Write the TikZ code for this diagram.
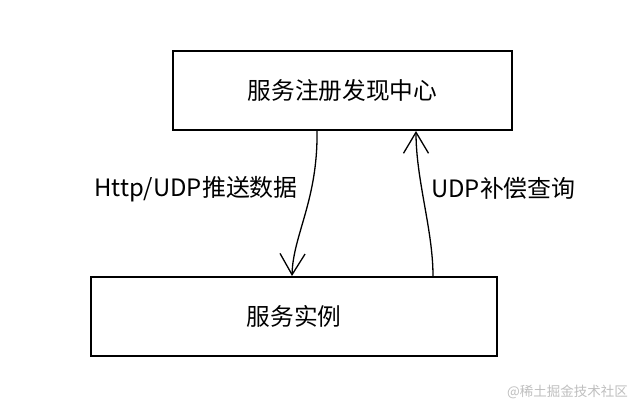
\documentclass[tikz,border=0pt]{standalone}
\usepackage{fontspec}
\setmainfont{Noto Sans CJK SC}
\usetikzlibrary{arrows.meta}
\tikzset{
  box/.style={draw=black, line width=2pt, fill=white, inner sep=0pt, font=\fontsize{23.7}{26}\selectfont},
  flow/.style={draw=black, line width=1.3pt, -{Straight Barb[length=21pt, width=25pt, line width=1.3pt]}},
  lbl/.style={font=\fontsize{23.9}{26}\selectfont, inner sep=0pt},
}
\begin{document}
\begin{tikzpicture}[x=1pt, y=-1pt]
\useasboundingbox (0,0) rectangle (640,412);
\fill[white] (0,0) rectangle (640,412);
\node[box, minimum width=339pt, minimum height=79pt] (top) at (342.5,90.5) {服务注册发现中心};
\node[box, minimum width=406pt, minimum height=79pt] (bot) at (294,316.5) {服务实例};
\coordinate (s1) at ([xshift=-25.5pt]top.south);
\coordinate (e1) at ([xshift=-2pt]bot.north);
\coordinate (s2) at ([xshift=139pt]bot.north);
\coordinate (e2) at ([xshift=73.5pt]top.south);
\draw[flow] (s1) .. controls (318,200) and (293,235) .. (e1);
\draw[flow] (s2) .. controls (433,230) and (416,180) .. (e2);
\node[lbl, anchor=west] (l1) at (94,189) {Http/UDP推送数据};
\node[lbl, anchor=west] (l2) at (431,188) {UDP补偿查询};
\node[anchor=east, inner sep=0pt, text=black!25, font=\fontsize{13.5}{15}\selectfont] (wm) at (628,392) {@稀土掘金技术社区};
\end{tikzpicture}
\end{document}
